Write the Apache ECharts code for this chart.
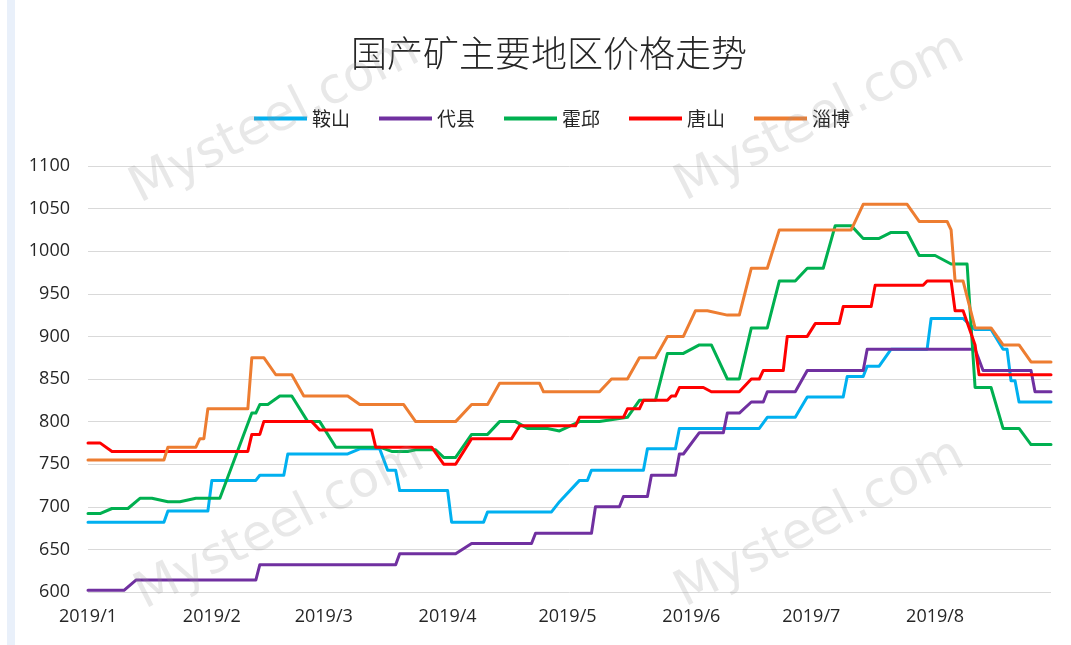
<!DOCTYPE html>
<html>
<head>
<meta charset="utf-8">
<title>国产矿主要地区价格走势</title>
<script src="https://cdn.jsdelivr.net/npm/echarts@6/dist/echarts.min.js"></script>
<style>
  html, body { margin: 0; padding: 0; background: #fff; }
  #main { width: 1071px; height: 645px; }
</style>
</head>
<body>
<div id="main"></div>
<script>
// 鞍山
var anshan = [
  ['2019-01-01', 682], ['2019-01-20', 682], ['2019-01-21', 695], ['2019-01-31', 695],
  ['2019-02-01', 731], ['2019-02-12', 731], ['2019-02-13', 737], ['2019-02-19', 737],
  ['2019-02-20', 762], ['2019-03-07', 762], ['2019-03-10', 768], ['2019-03-15', 768],
  ['2019-03-17', 743], ['2019-03-19', 743], ['2019-03-20', 719], ['2019-04-01', 719],
  ['2019-04-02', 682], ['2019-04-10', 682], ['2019-04-11', 694], ['2019-04-27', 694],
  ['2019-04-29', 706], ['2019-05-04', 731], ['2019-05-06', 731], ['2019-05-07', 743],
  ['2019-05-20', 743], ['2019-05-21', 768], ['2019-05-28', 768], ['2019-05-29', 792],
  ['2019-06-18', 792], ['2019-06-20', 805], ['2019-06-27', 805], ['2019-06-30', 829],
  ['2019-07-09', 829], ['2019-07-10', 853], ['2019-07-14', 853], ['2019-07-15', 865],
  ['2019-07-18', 865], ['2019-07-21', 885], ['2019-07-30', 885], ['2019-07-31', 921],
  ['2019-08-08', 921], ['2019-08-11', 908], ['2019-08-15', 908], ['2019-08-18', 885],
  ['2019-08-19', 885], ['2019-08-20', 848], ['2019-08-21', 848], ['2019-08-22', 823],
  ['2019-08-30', 823]
];
// 代县
var daixian = [
  ['2019-01-01', 602], ['2019-01-10', 602], ['2019-01-13', 614], ['2019-02-12', 614],
  ['2019-02-13', 632], ['2019-03-19', 632], ['2019-03-20', 645], ['2019-04-03', 645],
  ['2019-04-07', 657], ['2019-04-22', 657], ['2019-04-23', 669], ['2019-05-07', 669],
  ['2019-05-08', 700], ['2019-05-14', 700], ['2019-05-15', 712], ['2019-05-21', 712],
  ['2019-05-22', 737], ['2019-05-28', 737], ['2019-05-29', 762], ['2019-05-30', 762],
  ['2019-06-03', 787], ['2019-06-09', 787], ['2019-06-10', 810], ['2019-06-13', 810],
  ['2019-06-16', 823], ['2019-06-19', 823], ['2019-06-20', 835], ['2019-06-27', 835],
  ['2019-06-30', 860], ['2019-07-14', 860], ['2019-07-15', 885], ['2019-08-11', 885],
  ['2019-08-13', 860], ['2019-08-25', 860], ['2019-08-26', 835], ['2019-08-30', 835]
];
// 霍邱
var huoqiu = [
  ['2019-01-01', 692], ['2019-01-04', 692], ['2019-01-07', 698], ['2019-01-11', 698],
  ['2019-01-14', 710], ['2019-01-17', 710], ['2019-01-21', 706], ['2019-01-24', 706],
  ['2019-01-28', 710], ['2019-02-03', 710], ['2019-02-11', 810], ['2019-02-12', 810],
  ['2019-02-13', 820], ['2019-02-15', 820], ['2019-02-18', 830], ['2019-02-21', 830],
  ['2019-02-25', 800], ['2019-02-28', 800], ['2019-03-04', 770], ['2019-03-15', 770],
  ['2019-03-18', 765], ['2019-03-22', 765], ['2019-03-24', 767], ['2019-03-29', 767],
  ['2019-03-31', 758], ['2019-04-03', 758], ['2019-04-07', 785], ['2019-04-11', 785],
  ['2019-04-14', 800], ['2019-04-18', 800], ['2019-04-21', 792], ['2019-04-26', 792],
  ['2019-04-29', 789], ['2019-05-04', 800], ['2019-05-09', 800], ['2019-05-16', 805],
  ['2019-05-19', 825], ['2019-05-23', 825], ['2019-05-26', 880], ['2019-05-30', 880],
  ['2019-06-03', 890], ['2019-06-06', 890], ['2019-06-10', 850], ['2019-06-13', 850],
  ['2019-06-16', 910], ['2019-06-20', 910], ['2019-06-23', 965], ['2019-06-27', 965],
  ['2019-06-30', 980], ['2019-07-04', 980], ['2019-07-07', 1030], ['2019-07-11', 1030],
  ['2019-07-14', 1015], ['2019-07-18', 1015], ['2019-07-21', 1022], ['2019-07-25', 1022],
  ['2019-07-28', 995], ['2019-08-01', 995], ['2019-08-05', 985], ['2019-08-09', 985],
  ['2019-08-11', 840], ['2019-08-15', 840], ['2019-08-18', 792], ['2019-08-22', 792],
  ['2019-08-25', 773], ['2019-08-30', 773]
];
// 唐山
var tangshan = [
  ['2019-01-01', 775], ['2019-01-04', 775], ['2019-01-07', 765], ['2019-02-10', 765],
  ['2019-02-11', 785], ['2019-02-13', 785], ['2019-02-14', 800], ['2019-02-26', 800],
  ['2019-02-28', 790], ['2019-03-13', 790], ['2019-03-14', 770], ['2019-03-28', 770],
  ['2019-03-31', 750], ['2019-04-03', 750], ['2019-04-07', 780], ['2019-04-17', 780],
  ['2019-04-19', 795], ['2019-05-03', 795], ['2019-05-04', 805], ['2019-05-15', 805],
  ['2019-05-16', 815], ['2019-05-19', 815], ['2019-05-20', 825], ['2019-05-26', 825],
  ['2019-05-27', 830], ['2019-05-28', 830], ['2019-05-29', 840], ['2019-06-04', 840],
  ['2019-06-06', 835], ['2019-06-13', 835], ['2019-06-16', 850], ['2019-06-18', 850],
  ['2019-06-19', 860], ['2019-06-24', 860], ['2019-06-25', 900], ['2019-06-30', 900],
  ['2019-07-02', 915], ['2019-07-08', 915], ['2019-07-09', 935], ['2019-07-16', 935],
  ['2019-07-17', 960], ['2019-07-29', 960], ['2019-07-30', 965], ['2019-08-05', 965],
  ['2019-08-06', 930], ['2019-08-08', 930], ['2019-08-11', 890], ['2019-08-12', 855],
  ['2019-08-30', 855]
];
// 淄博
var zibo = [
  ['2019-01-01', 755], ['2019-01-20', 755], ['2019-01-21', 770], ['2019-01-28', 770],
  ['2019-01-29', 780], ['2019-01-30', 780], ['2019-01-31', 815], ['2019-02-10', 815],
  ['2019-02-11', 875], ['2019-02-14', 875], ['2019-02-17', 855], ['2019-02-21', 855],
  ['2019-02-24', 830], ['2019-03-07', 830], ['2019-03-10', 820], ['2019-03-21', 820],
  ['2019-03-24', 800], ['2019-04-03', 800], ['2019-04-07', 820], ['2019-04-11', 820],
  ['2019-04-14', 845], ['2019-04-24', 845], ['2019-04-25', 835], ['2019-05-09', 835],
  ['2019-05-12', 850], ['2019-05-16', 850], ['2019-05-19', 875], ['2019-05-23', 875],
  ['2019-05-26', 900], ['2019-05-30', 900], ['2019-06-02', 930], ['2019-06-05', 930],
  ['2019-06-10', 925], ['2019-06-13', 925], ['2019-06-16', 980], ['2019-06-20', 980],
  ['2019-06-23', 1025], ['2019-07-11', 1025], ['2019-07-14', 1055], ['2019-07-25', 1055],
  ['2019-07-28', 1035], ['2019-08-04', 1035], ['2019-08-05', 1025], ['2019-08-06', 965],
  ['2019-08-08', 965], ['2019-08-11', 910], ['2019-08-15', 910], ['2019-08-18', 890],
  ['2019-08-22', 890], ['2019-08-25', 870], ['2019-08-30', 870]
];

var seriesNames = ['鞍山', '代县', '霍邱', '唐山', '淄博'];
var seriesColors = ['#00b0f0', '#7030a0', '#00b050', '#ff0000', '#ed7d31'];
var seriesData = [anshan, daixian, huoqiu, tangshan, zibo];
var monthLabels = ['2019/1', '2019/2', '2019/3', '2019/4', '2019/5', '2019/6', '2019/7', '2019/8', '2019/9'];

var cjk = '"Noto Sans CJK SC", "Noto Sans", sans-serif';
var latin = '"Open Sans", "Noto Sans", sans-serif';

var myChart = echarts.init(document.getElementById('main'), null, { renderer: 'canvas' });

// 水印
function watermark(x, y) {
  return {
    type: 'text',
    x: x,
    y: y,
    rotation: 0.47,
    silent: true,
    z: 100,
    style: {
      text: 'Mysteel.com',
      font: '50px "DejaVu Sans"',
      fill: 'rgba(150,150,150,0.22)',
      align: 'center',
      verticalAlign: 'middle'
    }
  };
}

var option = {
  backgroundColor: '#fff',
  animation: false,
  title: {
    text: '国产矿主要地区价格走势',
    left: 544,
    top: 30,
    textAlign: 'center',
    textStyle: { fontFamily: cjk, fontSize: 36, fontWeight: 300, color: '#262626' }
  },
  legend: {
    data: seriesNames,
    left: 249,
    top: 104,
    icon: 'rect',
    itemWidth: 53,
    itemHeight: 4,
    itemGap: 29,
    textStyle: { fontFamily: cjk, fontSize: 19, color: '#262626' }
  },
  grid: { left: 88, right: 20, top: 166, bottom: 53, containLabel: false },
  xAxis: {
    type: 'time',
    min: '2019-01-01',
    max: '2019-08-30',
    splitNumber: 8,
    minInterval: 28 * 86400000,
    axisLine: { show: false },
    axisTick: { show: false },
    splitLine: { show: false },
    axisLabel: {
      showMaxLabel: false,
      margin: 16,
      fontFamily: latin,
      fontSize: 18,
      color: '#262626',
      formatter: function(v) {
        return monthLabels[new Date(v).getMonth()];
      }
    }
  },
  yAxis: {
    type: 'value',
    min: 600,
    max: 1100,
    interval: 50,
    axisLine: { show: false },
    axisTick: { show: false },
    splitLine: { lineStyle: { color: '#d9d9d9', width: 1 } },
    axisLabel: {
      margin: 18,
      fontFamily: latin,
      fontSize: 18,
      color: '#262626',
      formatter: function(v) { return String(v); }
    }
  },
  graphic: [
    { type: 'rect', shape: { x: 7, y: 0, width: 8, height: 645 }, style: { fill: '#e9f0fa' }, silent: true },
    watermark(275, 120),
    watermark(820, 118),
    watermark(280, 526),
    watermark(820, 524)
  ],
  series: seriesNames.map(function(name, i) {
    return {
      name: name,
      type: 'line',
      data: seriesData[i],
      showSymbol: false,
      symbol: 'none',
      color: seriesColors[i],
      lineStyle: { width: 3, color: seriesColors[i], cap: 'round', join: 'round' }
    };
  })
};

myChart.setOption(option);
</script>
</body>
</html>
